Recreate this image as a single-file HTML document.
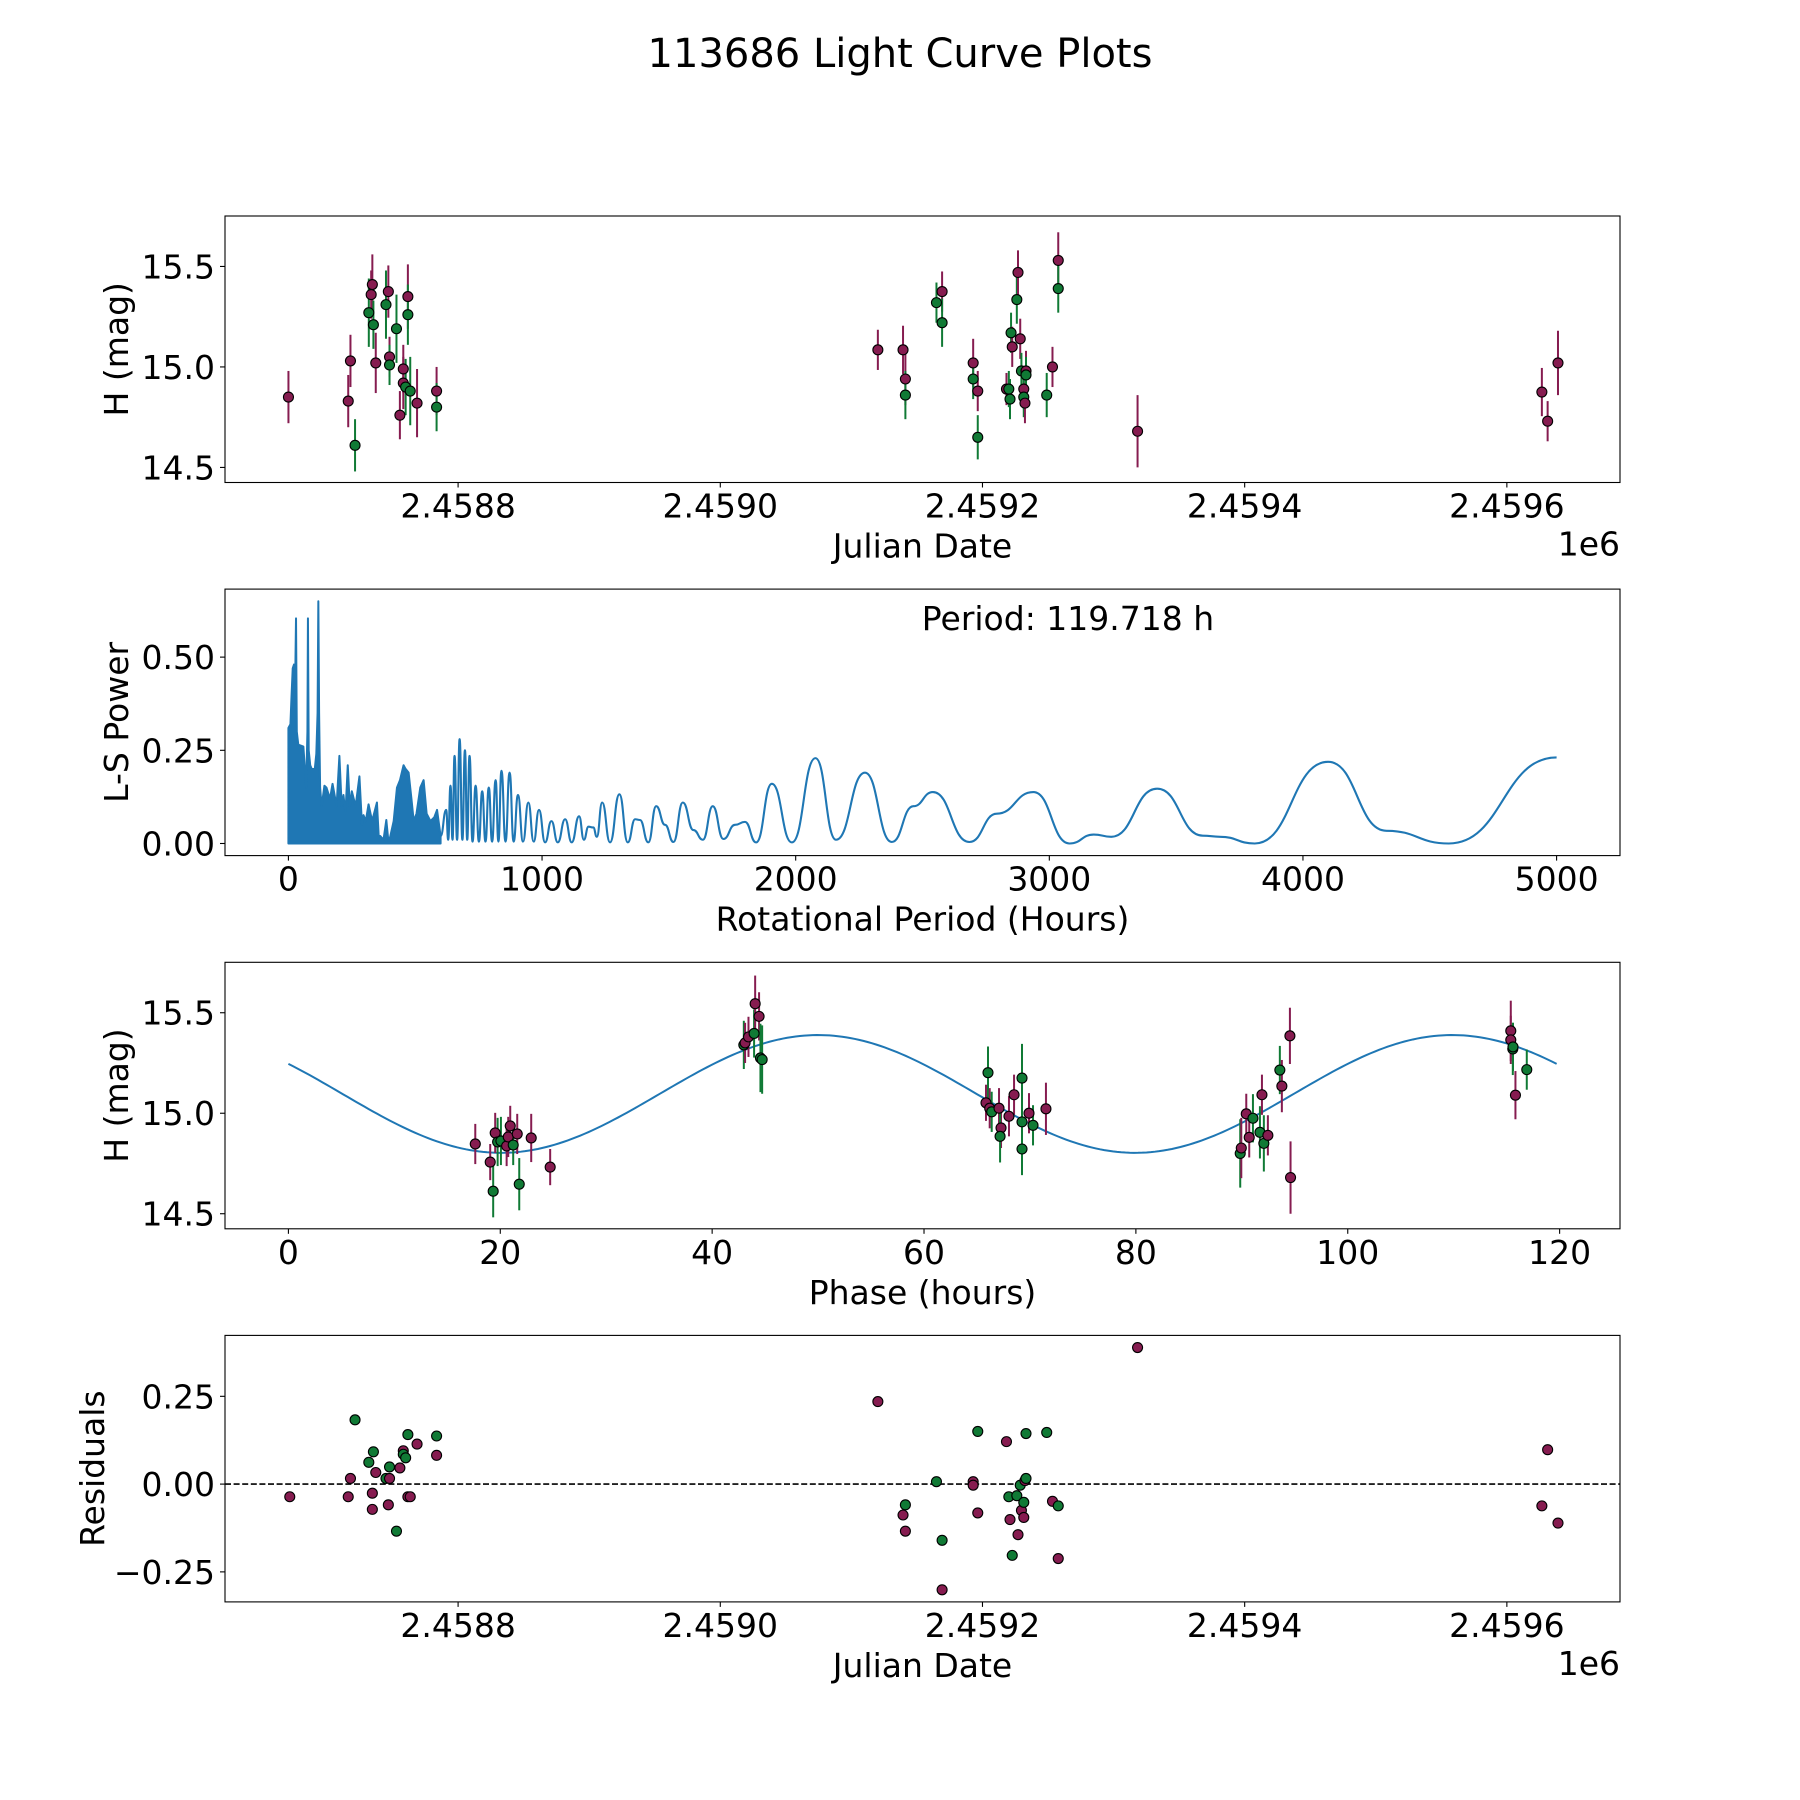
<!DOCTYPE html>
<html><head><meta charset="utf-8"><title>113686 Light Curve Plots</title>
<style>html,body{margin:0;padding:0;background:#fff;}svg{display:block;font-family:"DejaVu Sans","Liberation Sans",sans-serif;}</style>
</head><body>
<svg id="fig" width="1800" height="1800" viewBox="0 0 1800 1800" xmlns="http://www.w3.org/2000/svg">
<rect width="1800" height="1800" fill="#fff"/>
<text x="900" y="67" font-size="40" text-anchor="middle">113686 Light Curve Plots</text>
</svg>
<script>
// ---- data: light curve (days relative to JD 2458800) ----
const jdDays=[-129.4,-83.8,-82.1,-78.6,-68.1,-66.3,-65.4,-64.6,-62.8,-55.0,-53.2,-52.3,-52.3,-47.0,-44.4,-41.8,-41.8,-40.0,-38.3,-38.3,-36.5,-31.3,-16.4,-16.4,320.2,339.4,341.2,341.2,364.9,369.2,369.2,392.9,392.9,396.4,396.4,418.3,420.1,421.0,421.8,422.7,426.2,427.1,428.8,429.7,431.5,431.5,432.4,433.2,433.2,449.0,453.4,457.8,457.8,518.3,826.7,831.1,839.0];
const hMag=[14.85,14.83,15.03,14.61,15.27,15.36,15.41,15.21,15.02,15.31,15.375,15.05,15.01,15.19,14.76,14.99,14.92,14.90,15.35,15.26,14.88,14.82,14.88,14.80,15.085,15.085,14.94,14.86,15.32,15.375,15.22,15.02,14.94,14.88,14.65,14.89,14.89,14.84,15.17,15.10,15.335,15.47,15.14,14.98,14.89,14.85,14.82,14.98,14.96,14.86,15.00,15.53,15.39,14.68,14.875,14.73,15.02];
const hErr=[0.13,0.13,0.13,0.13,0.17,0.12,0.15,0.12,0.15,0.17,0.13,0.1,0.1,0.17,0.12,0.12,0.13,0.14,0.16,0.15,0.17,0.17,0.12,0.12,0.1,0.12,0.13,0.12,0.1,0.1,0.12,0.12,0.1,0.1,0.11,0.08,0.09,0.1,0.1,0.1,0.12,0.11,0.1,0.09,0.1,0.1,0.1,0.1,0.09,0.11,0.1,0.14,0.12,0.18,0.12,0.1,0.16];
const hBand=["P","P","P","G","G","P","P","G","P","G","P","P","G","G","P","P","P","G","P","G","G","P","P","G","P","P","P","G","G","P","G","P","G","P","G","P","G","G","G","P","G","P","P","G","P","G","P","P","G","G","P","P","G","P","P","P","P"];
// ---- periodogram ----
const denseP=[0,8,12,17,22,27,30,33,39,59,70,75,77,80,86,92,104,110,115,118,121,125,131,142,150,164,174,190,201,210,217,225,234,242,250,265,280,290,296,305,316,330,349,356,362,375,386,395,402,415,428,440,454,462,474,485,494,505,520,533,545,560,575,586,600];
const densePow=[0.31,0.32,0.39,0.47,0.48,0.45,0.604,0.30,0.265,0.26,0.15,0.30,0.604,0.25,0.21,0.20,0.20,0.24,0.35,0.65,0.35,0.15,0.10,0.155,0.15,0.12,0.16,0.10,0.235,0.10,0.13,0.08,0.21,0.10,0.14,0.10,0.18,0.05,0.076,0.06,0.105,0.06,0.11,0.02,0.02,0.01,0.063,0.0,0.02,0.06,0.15,0.17,0.21,0.20,0.19,0.12,0.06,0.08,0.15,0.17,0.08,0.06,0.07,0.09,0.02];
const lsPeriod=[600,622,630,639,647,655,665,675,686,696,705,714,726,738,751,764,777,790,803,817,828,840,856,872,888,905,925,946,967,988,1012,1037,1062,1091,1117,1146,1165,1183,1202,1216,1237,1268,1305,1338,1367,1386,1419,1450,1485,1518,1555,1597,1634,1673,1715,1761,1800,1844,1906,1985,2078,2159,2273,2379,2464,2541,2685,2793,2937,3080,3175,3244,3425,3605,3673,3810,4099,4329,4575,5000];
const lsPower=[0.02,0.09,0.01,0.155,0.01,0.235,0.01,0.28,0.01,0.25,0.01,0.235,0.005,0.155,0.005,0.14,0.005,0.15,0.005,0.17,0.005,0.195,0.005,0.19,0.005,0.13,0.005,0.11,0.005,0.09,0.003,0.06,0.003,0.065,0.003,0.073,0.01,0.045,0.043,0.018,0.11,0.003,0.132,0.003,0.065,0.063,0.003,0.10,0.05,0.004,0.11,0.036,0.01,0.10,0.012,0.05,0.058,0.003,0.16,0.003,0.229,0.01,0.19,0.004,0.10,0.138,0.004,0.08,0.138,0.0,0.024,0.018,0.147,0.021,0.018,0.0,0.219,0.034,0.0,0.231];
// ---- phased ----
const phaseH=[17.64,19.05,19.33,19.52,19.75,20.06,20.6,20.75,20.94,21.22,21.6,21.79,22.92,24.71,42.99,43.11,43.43,43.96,44.06,44.43,44.56,44.72,66.04,65.85,66.2,66.39,67.08,67.27,67.18,68.02,68.5,69.25,69.25,69.25,69.91,70.29,71.51,89.85,89.95,90.42,91.05,90.7,91.71,91.9,92.08,92.46,93.59,93.78,94.6,94.54,115.39,115.39,115.58,115.6,115.83,116.9];
const phaseMag=[14.847,14.757,14.612,14.902,14.857,14.862,14.837,14.882,14.937,14.842,14.897,14.647,14.877,14.732,15.34,15.35,15.38,15.397,15.545,15.482,15.275,15.267,15.202,15.052,15.025,15.007,15.025,14.927,14.885,14.985,15.092,15.175,14.957,14.822,15.0,14.94,15.022,14.80,14.827,14.997,14.975,14.88,14.905,15.092,14.85,14.89,15.215,15.135,14.68,15.385,15.41,15.365,15.32,15.33,15.09,15.217];
const phaseErr=[0.1,0.09,0.13,0.1,0.12,0.12,0.1,0.1,0.1,0.1,0.1,0.13,0.12,0.09,0.12,0.1,0.1,0.12,0.14,0.12,0.17,0.17,0.13,0.09,0.1,0.1,0.1,0.1,0.13,0.1,0.1,0.17,0.13,0.13,0.1,0.1,0.13,0.17,0.15,0.1,0.12,0.1,0.13,0.1,0.14,0.1,0.12,0.13,0.18,0.14,0.15,0.12,0.13,0.12,0.12,0.1];
const phaseBand=["P","P","G","P","G","G","P","P","P","G","P","G","P","P","G","P","P","G","P","P","G","G","G","P","P","G","P","P","G","P","P","G","G","G","P","G","P","G","P","P","G","P","G","P","G","P","G","P","P","P","P","P","G","G","P","G"];
const fitMean=15.096, fitAmp=0.293, fitPeak=50, fitPeriod=119.718;
// ---- residuals ----
const resDays=[-128.4,-83.8,-82.1,-78.6,-68.1,-65.4,-65.4,-64.6,-62.8,-55.0,-53.2,-52.3,-52.3,-47.0,-44.4,-41.8,-41.8,-40.0,-38.3,-38.3,-36.5,-31.3,-16.4,-16.4,320.2,339.4,341.2,341.2,364.9,369.2,369.2,392.9,392.9,396.4,396.4,418.3,420.1,421.0,422.7,426.2,427.1,428.8,429.7,431.5,431.5,432.4,433.2,433.2,449.0,453.4,457.8,457.8,518.3,826.7,831.1,839.0];
const resVals=[-0.036,-0.036,0.016,0.183,0.062,-0.026,-0.072,0.092,0.033,0.016,-0.059,0.016,0.049,-0.134,0.046,0.095,0.085,0.075,-0.036,0.141,-0.036,0.114,0.082,0.137,0.235,-0.088,-0.134,-0.059,0.007,-0.160,-0.301,0.007,-0.003,0.150,-0.082,0.121,-0.036,-0.101,-0.203,-0.033,-0.144,-0.003,-0.075,-0.095,-0.052,0.010,0.016,0.144,0.147,-0.049,-0.212,-0.062,0.389,-0.062,0.098,-0.111];
const resBand=["P","P","P","G","G","P","P","G","P","G","P","P","G","G","P","P","G","G","P","G","P","P","P","G","P","P","P","G","G","G","P","P","P","G","P","P","G","P","G","G","P","G","P","P","G","P","G","G","G","P","P","G","P","P","P","P"];
// ---- tick labels ----
const jdTicks=[0,200,400,600,800];
const jdTickLabels=["2.4588","2.4590","2.4592","2.4594","2.4596"];
const magTicks=[14.5,15.0,15.5];
const magTickLabels=["14.5","15.0","15.5"];
const lsXTicks=[0,1000,2000,3000,4000,5000];
const lsYTicks=[0,0.25,0.5];
const lsYTickLabels=["0.00","0.25","0.50"];
const phTicks=[0,20,40,60,80,100,120];
const resTicks=[-0.25,0,0.25];
const resTickLabels=["\u22120.25","0.00","0.25"];

const NS="http://www.w3.org/2000/svg";
const svg=document.getElementById("fig");
const COL={P:"#861c50",G:"#107a35"};
const FS=33;
function el(tag,attrs,parent){const e=document.createElementNS(NS,tag);for(const k in attrs)e.setAttribute(k,attrs[k]);(parent||svg).appendChild(e);return e;}
const L=225,W=1395,H=266.5;
function axes(name,top,xmin,xmax,ymin,ymax){
  const g=el("g",{});
  
  
  const sx=v=>L+(v-xmin)/(xmax-xmin)*W, sy=v=>top+H-(v-ymin)/(ymax-ymin)*H;
  return {g,sx,sy,top,bottom:top+H};
}
function frame(a){
  const r=el("rect",{x:L,y:a.top,width:W,height:H,fill:"none",stroke:"#000","stroke-width":1.1},a.g);
  
  
}
function xticks(a,vals,labels,name){
  vals.forEach((v,i)=>{const x=a.sx(v);
    el("line",{x1:x,x2:x,y1:a.bottom,y2:a.bottom+5,stroke:"#000","stroke-width":1.1},a.g);
    const t=el("text",{x:x,y:a.bottom+35,"font-size":FS,"text-anchor":"middle"},a.g);t.textContent=labels[i];
    
    });
}
function yticks(a,vals,labels,name){
  vals.forEach((v,i)=>{const y=a.sy(v);
    el("line",{x1:L-5,x2:L,y1:y,y2:y,stroke:"#000","stroke-width":1.1},a.g);
    const t=el("text",{x:L-10,y:y+12,"font-size":FS,"text-anchor":"end"},a.g);t.textContent=labels[i];
    
    });
}
function xlabel(a,txt,name){const t=el("text",{x:L+W/2,y:a.bottom+75,"font-size":FS,"text-anchor":"middle"},a.g);t.textContent=txt;
  
  }
function ylabel(a,txt,x,name){const cy=a.top+H/2;const t=el("text",{x:x,y:cy,"font-size":FS,"text-anchor":"middle",transform:`rotate(-90 ${x} ${cy})`},a.g);t.textContent=txt;
  
  }
function offsetText(a){const t=el("text",{x:L+W,y:a.bottom+73,"font-size":FS,"text-anchor":"end"},a.g);t.textContent="1e6";
  
  }
function errpoints(a,xs,ys,errs,bands,ptName){
  xs.forEach((xv,i)=>{const x=a.sx(xv);
    const ln=el("line",{x1:x,x2:x,y1:a.sy(ys[i]-errs[i]),y2:a.sy(ys[i]+errs[i]),stroke:COL[bands[i]],"stroke-width":2},a.g);
    
    });
  xs.forEach((xv,i)=>{
    const c=el("circle",{cx:a.sx(xv),cy:a.sy(ys[i]),r:5,fill:COL[bands[i]],stroke:"#000","stroke-width":1.1},a.g);
    
    });
}

// Axes 1
const a1=axes("light-curve-axes",216,-177.8,886.3,14.425,15.751);
errpoints(a1,jdDays,hMag,hErr,hBand,"magnitude-point");
frame(a1);xticks(a1,jdTicks,jdTickLabels,"x-tick-label");yticks(a1,magTicks,magTickLabels,"y-tick-label");
xlabel(a1,"Julian Date","x-axis-title");ylabel(a1,"H (mag)",128,"y-axis-title");offsetText(a1);

// Axes 2
const a2=axes("periodogram-axes",589.1,-250,5250,-0.0325,0.6825);
{let d=`M${a2.sx(0)},${a2.sy(0)}`;denseP.forEach((p,i)=>{d+=` L${a2.sx(p).toFixed(2)},${a2.sy(densePow[i]).toFixed(2)}`;});d+=` L${a2.sx(denseP[denseP.length-1])},${a2.sy(0)} Z`;
 const pa=el("path",{d:d,fill:"#1f77b4",stroke:"#1f77b4","stroke-width":2,"stroke-linejoin":"round"},a2.g);
 
 }
{let d=`M${a2.sx(lsPeriod[0]).toFixed(2)},${a2.sy(lsPower[0]).toFixed(2)}`;
 for(let i=1;i<lsPeriod.length;i++){const x0=a2.sx(lsPeriod[i-1]),y0=a2.sy(lsPower[i-1]),x1=a2.sx(lsPeriod[i]),y1=a2.sy(lsPower[i]);const m=(x1-x0)/2;
  d+=` C${(x0+m).toFixed(2)},${y0.toFixed(2)} ${(x1-m).toFixed(2)},${y1.toFixed(2)} ${x1.toFixed(2)},${y1.toFixed(2)}`;}
 const pl=el("path",{d:d,fill:"none",stroke:"#1f77b4","stroke-width":2.1},a2.g);
 
 }
frame(a2);xticks(a2,lsXTicks,lsXTicks.map(String),"x-tick-label");yticks(a2,lsYTicks,lsYTickLabels,"y-tick-label");
xlabel(a2,"Rotational Period (Hours)","x-axis-title");ylabel(a2,"L-S Power",128,"y-axis-title");
{const t=el("text",{x:1068,y:630,"font-size":FS,"text-anchor":"middle"},a2.g);t.textContent="Period: 119.718 h";
 
 }

// Axes 3
const a3=axes("phased-curve-axes",962.3,-5.986,125.70,14.425,15.751);
{let d="";for(let k=0;k<=300;k++){const p=fitPeriod*k/300;const v=fitMean+fitAmp*Math.cos(4*Math.PI*(p-fitPeak)/fitPeriod);d+=(k?" L":"M")+a3.sx(p).toFixed(2)+","+a3.sy(v).toFixed(2);}
 const fl=el("path",{d:d,fill:"none",stroke:"#1f77b4","stroke-width":2},a3.g);
 
 }
errpoints(a3,phaseH,phaseMag,phaseErr,phaseBand,"phased-point");
frame(a3);xticks(a3,phTicks,phTicks.map(String),"x-tick-label");yticks(a3,magTicks,magTickLabels,"y-tick-label");
xlabel(a3,"Phase (hours)","x-axis-title");ylabel(a3,"H (mag)",128,"y-axis-title");

// Axes 4
const a4=axes("residuals-axes",1335.4,-177.8,886.3,-0.3355,0.4235);
{const z=el("line",{x1:L,x2:L+W,y1:a4.sy(0),y2:a4.sy(0),stroke:"#000","stroke-width":1.6,"stroke-dasharray":"6,2.6"},a4.g);
 
 }
resDays.forEach((dv,i)=>{const c=el("circle",{cx:a4.sx(dv),cy:a4.sy(resVals[i]),r:5,fill:COL[resBand[i]],stroke:"#000","stroke-width":1.1},a4.g);
  
  });
frame(a4);xticks(a4,jdTicks,jdTickLabels,"x-tick-label");yticks(a4,resTicks,resTickLabels,"y-tick-label");
xlabel(a4,"Julian Date","x-axis-title");ylabel(a4,"Residuals",104,"y-axis-title");offsetText(a4);
</script>
</body></html>
